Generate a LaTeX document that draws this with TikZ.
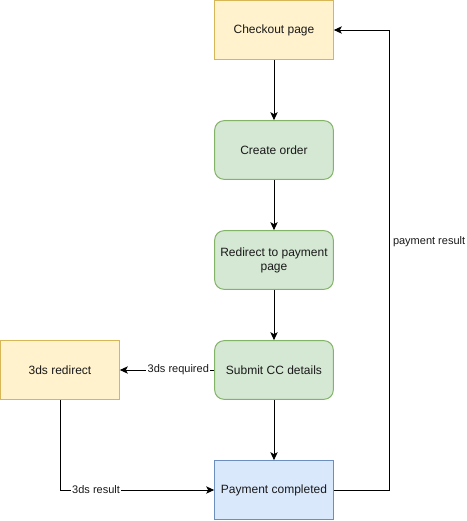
\documentclass[tikz,border=0pt]{standalone}
\usepackage{fontspec}
\setmainfont{Liberation Sans}
\usetikzlibrary{arrows.meta}
\definecolor{pagefill}{HTML}{FFF2CC}
\definecolor{pageline}{HTML}{D6B656}
\definecolor{stepfill}{HTML}{D5E8D4}
\definecolor{stepline}{HTML}{82B366}
\definecolor{donefill}{HTML}{DAE8FC}
\definecolor{doneline}{HTML}{6C8EBF}
\begin{document}
\begin{tikzpicture}[
x=0.75pt, y=-0.75pt,
every node/.style={font=\fontsize{9}{10.5}\selectfont, align=center, text=black!90},
box/.style={draw, line width=0.75pt, minimum width=89pt, minimum height=44pt, inner sep=2pt},
pagebox/.style={box, fill=pagefill, draw=pageline},
stepbox/.style={box, fill=stepfill, draw=stepline, rounded corners=7pt},
donebox/.style={box, fill=donefill, draw=doneline},
edge/.style={-{Stealth[length=6pt,width=5.5pt,inset=1.5pt]}, line width=0.75pt},
edgelabel/.style={fill=white, inner sep=1pt, font=\fontsize{8.25}{9.5}\selectfont}
]
\useasboundingbox (0,0) rectangle (467,521);
\node[pagebox] (checkout) at (274,30) {Checkout page};
\node[stepbox] (order) at (274,150) {Create order};
\node[stepbox] (redirect) at (274,260) {Redirect to payment\\page};
\node[stepbox] (submit) at (274,370) {Submit CC details};
\node[pagebox] (tds) at (60,370) {3ds redirect};
\node[donebox] (done) at (274,490) {Payment completed};
\draw[edge] (checkout) -- (order);
\draw[edge] (order) -- (redirect);
\draw[edge] (redirect) -- (submit);
\draw[edge] (submit) -- (done);
\draw[edge] (submit.west) -- node[edgelabel, pos=0.38] {3ds required} (tds.east);
\draw[edge] (tds.south) |- node[edgelabel, pos=0.617] {3ds result} (done.west);
\draw[edge] (done.east) -- ++(56,0) |- node[pos=0.27, right, inner sep=2pt, font=\fontsize{8.25}{9.5}\selectfont] {payment result} (checkout.east);
\end{tikzpicture}
\end{document}
